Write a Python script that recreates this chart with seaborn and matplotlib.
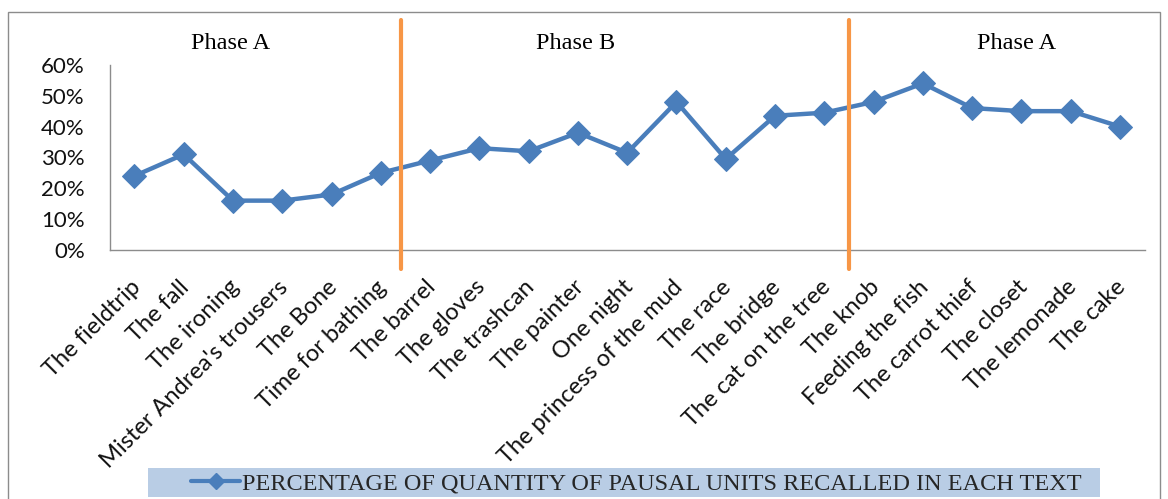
import matplotlib
matplotlib.use("Agg")
import matplotlib.pyplot as plt
import matplotlib.transforms as mtransforms
from matplotlib.lines import Line2D
from matplotlib.patches import Rectangle
from matplotlib.ticker import PercentFormatter
import pandas as pd
import seaborn as sns

# ── data ────────────────────────────────────────────────────────────────
texts = [
    "The fieldtrip", "The fall", "The ironing", "Mister Andrea's trousers",
    "The Bone", "Time for bathing", "The barrel", "The gloves", "The trashcan",
    "The painter", "One night", "The princess of the mud", "The race",
    "The bridge", "The cat on the tree", "The knob", "Feeding the fish",
    "The carrot thief", "The closet", "The lemonade", "The cake",
]
pct = [24, 31, 16, 16, 18, 25, 29, 33, 32, 38, 31.5, 48, 29.5,
       43.5, 44.5, 48, 54, 46, 45, 45, 40]
series_name = "PERCENTAGE OF QUANTITY OF PAUSAL UNITS RECALLED IN EACH TEXT"

phase_names = ["Phase A", "Phase B", "Phase A"]
phase_centers = [1.95, 8.95, 17.9]
phase_bounds = [5.4, 14.5]

BLUE = "#4a7ebb"
ORANGE = "#f79646"
LEGEND_BG = "#b9cde5"

sns.set_theme(style="white")
plt.rcParams["font.family"] = ["Lato", "DejaVu Sans"]

df = pd.DataFrame({"text": texts, "pct": pct})

fig = plt.figure(figsize=(11.68, 4.99), dpi=100)
ax = fig.add_axes([0.094, 0.499, 0.886, 0.371])

sns.lineplot(data=df, x="text", y="pct", sort=False, ax=ax, color=BLUE,
             linewidth=3.2, marker="D", markersize=12, markeredgecolor=BLUE)

ax.set_xlim(-0.5, len(texts) - 0.5)
ax.set_ylim(0, 60)
ax.set_yticks(range(0, 61, 10))
ax.yaxis.set_major_formatter(PercentFormatter(decimals=0))
ax.set_xlabel("")
ax.set_ylabel("")

for s in ["top", "right"]:
    ax.spines[s].set_visible(False)
for s in ["left", "bottom"]:
    ax.spines[s].set_color("#8c8c8c")
    ax.spines[s].set_linewidth(1)

ax.tick_params(axis="y", length=0, pad=18, labelsize=16, colors="#111111")
ax.tick_params(axis="x", length=0, pad=19, labelsize=17, colors="#111111")
ax.set_xticks(range(len(texts)))
ax.set_xticklabels(texts, rotation=45, ha="right", va="top",
                   rotation_mode="anchor")
shift = mtransforms.ScaledTranslation(-0.05, 0, fig.dpi_scale_trans)
for lab in ax.get_xticklabels():
    lab.set_transform(lab.get_transform() + shift)

# phase separators and labels
for b in phase_bounds:
    ax.axvline(b, ymin=-0.1, ymax=1.24, color=ORANGE, linewidth=3,
               clip_on=False, zorder=5)
for name, cx in zip(phase_names, phase_centers):
    ax.text(cx, 1.118, name, transform=ax.get_xaxis_transform(),
            ha="center", va="center", fontsize=17.5,
            family="Liberation Serif", color="black")

# outer chart frame
fig.patches.append(Rectangle((0.0068, -0.05), 0.986, 1.026,
                             transform=fig.transFigure, fill=False,
                             edgecolor="#8c8c8c", linewidth=1))

# legend band
fig.patches.append(Rectangle((148 / 1168, 2 / 499), 952 / 1168, 29 / 499,
                             transform=fig.transFigure, facecolor=LEGEND_BG,
                             edgecolor="none", zorder=0))
handle = Line2D([], [], color=BLUE, linewidth=3, marker="D", markersize=8)
leg = fig.legend([handle], [series_name], loc="center",
                 bbox_to_anchor=(0.545, 0.031), frameon=False,
                 prop={"family": "Liberation Serif", "size": 17.5},
                 borderpad=0.1, handlelength=2.0, handletextpad=0.1)

fig.savefig("out.png", dpi=100)
